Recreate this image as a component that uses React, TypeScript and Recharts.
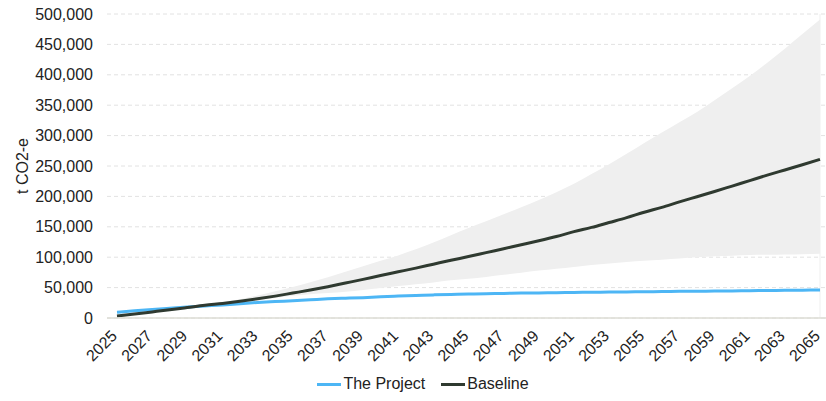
import {
  ComposedChart,
  Area,
  Line,
  XAxis,
  YAxis,
  CartesianGrid,
  Legend,
  ReferenceLine,
} from "recharts";

const FONT = "'Liberation Sans', Arial, sans-serif";

const years = [
  2025, 2026, 2027, 2028, 2029, 2030, 2031, 2032, 2033, 2034, 2035, 2036, 2037,
  2038, 2039, 2040, 2041, 2042, 2043, 2044, 2045, 2046, 2047, 2048, 2049, 2050,
  2051, 2052, 2053, 2054, 2055, 2056, 2057, 2058, 2059, 2060, 2061, 2062, 2063,
  2064, 2065,
];

const projectValues = [
  9400, 11800, 14000, 16000, 18000, 19800, 21500, 23500, 25500, 27000, 28500,
  30000, 31500, 32500, 33500, 35000, 36000, 37000, 38000, 38800, 39500, 40000,
  40500, 41000, 41300, 41600, 42000, 42300, 42600, 42900, 43200, 43500, 43800,
  44000, 44300, 44600, 44900, 45200, 45500, 45800, 46000,
];

const baselineValues = [
  3300, 6500, 10000, 13500, 17200, 21000, 24000, 27500, 31500, 36000, 41000,
  46000, 51500, 57500, 63500, 70000, 76000, 82000, 88500, 95000, 101000, 107500,
  114000, 120500, 127000, 134000, 142000, 149000, 157000, 165000, 174000,
  182000, 191000, 199500, 208000, 217000, 226000, 235000, 243500, 252000,
  261000,
];

// uncertainty range around the baseline
const baselineLow = [
  3300, 6500, 10000, 13500, 17200, 21000, 23500, 26500, 29500, 33000, 36500,
  39000, 41000, 43000, 46000, 49500, 52500, 55500, 58500, 62000, 64500, 67500,
  71000, 74500, 78000, 81000, 84000, 87000, 89500, 92000, 94000, 96000, 98000,
  100000, 101500, 102500, 103500, 104000, 104500, 105000, 105500,
];

const baselineHigh = [
  3300, 6500, 10000, 13500, 17200, 21000, 26000, 31000, 37000, 44000, 51000,
  59000, 67000, 76000, 85000, 94000, 103000, 113000, 124000, 136000, 148000,
  159000, 170500, 182000, 194000, 207000, 221000, 237000, 253000, 270000,
  288000, 305000, 322000, 339000, 358000, 378000, 398000, 420000, 443000,
  467000, 491000,
];

const yTicks = [
  0, 50000, 100000, 150000, 200000, 250000, 300000, 350000, 400000, 450000,
  500000,
];

const PROJECT_COLOR = "#4db6f5";
const BASELINE_COLOR = "#2f3a30";
const TEXT_COLOR = "#222";

const data = years.map((year, i) => ({
  year,
  project: projectValues[i],
  baseline: baselineValues[i],
  band: [baselineLow[i], baselineHigh[i]],
}));

const legendItems = [
  { label: "The Project", color: PROJECT_COLOR },
  { label: "Baseline", color: BASELINE_COLOR },
];

// year labels slanted at 45°, ending just under the tick
function YearTick(props: any) {
  const { x, y, payload } = props;
  const px = x + 1;
  const py = y + 19;
  return (
    <text
      x={px}
      y={py}
      transform={`rotate(-45, ${px}, ${py})`}
      textAnchor="end"
      fill={TEXT_COLOR}
      fontSize={16}
      fontFamily={FONT}
    >
      {payload.value}
    </text>
  );
}

function ChartLegend() {
  return (
    <div
      style={{
        height: 30,
        display: "flex",
        justifyContent: "center",
        alignItems: "center",
        paddingLeft: 20,
        fontFamily: FONT,
        fontSize: 16,
        color: TEXT_COLOR,
      }}
    >
      {legendItems.map((item, idx) => (
        <div
          key={item.label}
          style={{
            display: "flex",
            alignItems: "center",
            marginLeft: idx === 0 ? 0 : 16,
          }}
        >
          <span
            style={{
              display: "inline-block",
              width: 24,
              height: 3,
              background: item.color,
              marginRight: 2,
            }}
          />
          <span>{item.label}</span>
        </div>
      ))}
    </div>
  );
}

export default function App() {
  return (
    <div
      style={{
        position: "absolute",
        left: 0,
        top: 0,
        width: 826,
        height: 401,
        background: "#fff",
        fontFamily: FONT,
      }}
    >
      <ComposedChart
        width={826}
        height={401}
        data={data}
        margin={{ top: 14, right: 0, left: 0, bottom: 2 }}
      >
        <CartesianGrid
          horizontal
          vertical={false}
          stroke="#e2e2e2"
          strokeDasharray="4 3"
        />
        <XAxis
          dataKey="year"
          type="category"
          interval={1}
          height={51}
          padding={{ left: 10, right: 6 }}
          tickLine={false}
          tickSize={0}
          tickMargin={0}
          axisLine={{ stroke: "#dcdcd4", strokeWidth: 1.5 }}
          tick={<YearTick />}
        />
        <YAxis
          width={107}
          domain={[0, 500000]}
          ticks={yTicks}
          axisLine={false}
          tickLine={false}
          tickSize={0}
          tickMargin={14}
          tickFormatter={(v: number) => v.toLocaleString("en-US")}
          tick={{ fill: TEXT_COLOR, fontSize: 16, fontFamily: FONT }}
          label={{
            value: "t CO2-e",
            angle: -90,
            position: "center",
            dx: -31,
            fill: TEXT_COLOR,
            fontSize: 16,
            fontFamily: FONT,
          }}
        />
        <ReferenceLine x={2065} stroke="#efefef" />
        <Area
          type="monotone"
          dataKey="band"
          stroke="none"
          fill="#efefef"
          fillOpacity={1}
          isAnimationActive={false}
          legendType="none"
        />
        <Line
          type="monotone"
          dataKey="project"
          name="The Project"
          stroke={PROJECT_COLOR}
          strokeWidth={3}
          dot={false}
          isAnimationActive={false}
        />
        <Line
          type="monotone"
          dataKey="baseline"
          name="Baseline"
          stroke={BASELINE_COLOR}
          strokeWidth={3}
          dot={false}
          isAnimationActive={false}
        />
        <Legend verticalAlign="bottom" content={() => <ChartLegend />} />
      </ComposedChart>
    </div>
  );
}
